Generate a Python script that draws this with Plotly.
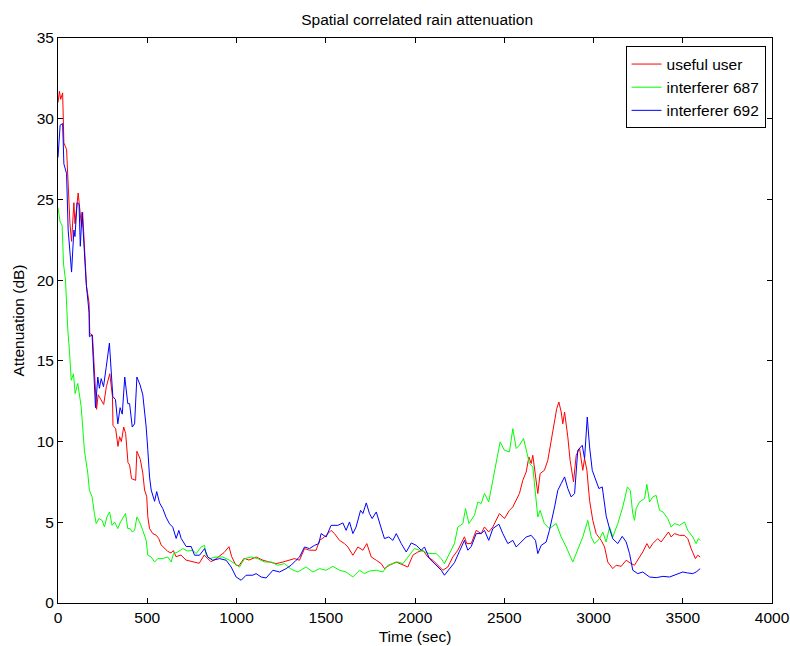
import plotly.graph_objects as go

# ---- data ----
time_user = [0, 8, 15, 26, 33, 48, 67, 76, 89, 95, 113, 132, 138, 160, 174, 178, 193, 216, 225, 243, 256, 271, 290, 305, 308, 323, 336, 345, 355, 368, 379, 392, 401, 412, 435, 442, 461, 475, 485, 497, 503, 513, 531, 550, 564, 578, 596, 614, 633, 646, 661, 689, 717, 754, 791, 819, 837, 856, 875, 903, 930, 958, 973, 996, 1014, 1042, 1070, 1110, 1148, 1185, 1222, 1260, 1297, 1325, 1353, 1381, 1409, 1446, 1465, 1493, 1530, 1549, 1577, 1605, 1624, 1652, 1680, 1708, 1730, 1755, 1783, 1811, 1829, 1857, 1895, 1932, 1960, 1988, 2016, 2044, 2072, 2100, 2128, 2156, 2184, 2212, 2240, 2277, 2290, 2315, 2343, 2371, 2389, 2413, 2436, 2473, 2501, 2529, 2548, 2567, 2585, 2604, 2623, 2638, 2651, 2660, 2675, 2688, 2701, 2725, 2744, 2763, 2782, 2794, 2806, 2819, 2828, 2838, 2856, 2869, 2888, 2903, 2922, 2940, 2950, 2963, 2978, 2996, 3015, 3043, 3062, 3080, 3108, 3127, 3155, 3183, 3211, 3230, 3258, 3276, 3299, 3314, 3332, 3360, 3379, 3398, 3420, 3435, 3454, 3482, 3510, 3528, 3547, 3571, 3584, 3598]
att_user = [31.0, 31.7, 31.2, 31.6, 28.5, 28.1, 23.5, 22.4, 24.8, 23.5, 25.4, 23.3, 24.2, 19.6, 18.6, 16.7, 16.6, 12.0, 12.9, 12.6, 12.3, 13.4, 14.2, 12.8, 11.0, 10.8, 9.7, 10.3, 10.0, 10.9, 10.5, 8.7, 8.55, 7.7, 7.6, 9.4, 8.9, 8.05, 7.0, 6.6, 5.35, 4.6, 4.3, 4.2, 4.0, 3.6, 3.4, 3.2, 3.1, 3.25, 2.87, 2.97, 2.66, 2.56, 2.46, 2.97, 2.77, 2.56, 2.66, 2.91, 3.12, 3.49, 2.87, 2.35, 2.31, 2.77, 2.66, 2.85, 2.65, 2.54, 2.44, 2.54, 2.65, 2.75, 2.65, 3.37, 3.27, 3.27, 3.88, 4.09, 4.5, 4.3, 3.88, 3.68, 3.47, 2.96, 3.47, 3.27, 3.68, 2.85, 2.65, 2.44, 2.13, 2.34, 2.54, 2.34, 2.23, 2.96, 3.16, 3.27, 2.85, 2.65, 2.34, 2.03, 2.23, 2.85, 3.27, 4.1, 3.68, 3.68, 4.5, 4.3, 4.71, 4.4, 4.71, 5.54, 5.23, 5.74, 5.95, 6.36, 6.78, 7.6, 8.12, 9.05, 8.64, 9.15, 7.81, 6.78, 8.02, 8.22, 8.84, 10.08, 11.1, 12.04, 12.45, 11.83, 11.1, 11.83, 10.29, 8.84, 7.5, 9.15, 9.57, 8.22, 8.95, 8.22, 6.36, 5.12, 4.3, 3.88, 3.47, 2.54, 2.13, 2.34, 2.27, 2.65, 2.44, 2.34, 2.85, 3.16, 3.68, 3.37, 3.68, 3.99, 3.78, 4.09, 4.4, 4.09, 4.3, 4.19, 4.19, 3.99, 3.37, 2.75, 2.96, 2.85]

time_687 = [0, 12, 23, 31, 42, 46, 55, 64, 74, 87, 96, 111, 130, 148, 167, 176, 191, 204, 214, 229, 247, 260, 274, 289, 303, 317, 335, 350, 367, 378, 391, 404, 416, 429, 442, 457, 475, 494, 503, 522, 541, 559, 587, 615, 634, 647, 671, 699, 727, 755, 774, 802, 821, 830, 849, 886, 923, 961, 989, 1017, 1045, 1082, 1119, 1157, 1194, 1231, 1269, 1306, 1343, 1390, 1428, 1465, 1502, 1540, 1577, 1614, 1652, 1689, 1717, 1745, 1783, 1820, 1848, 1876, 1904, 1932, 1969, 1997, 2025, 2053, 2081, 2119, 2147, 2165, 2193, 2221, 2240, 2268, 2283, 2302, 2333, 2352, 2371, 2389, 2413, 2436, 2455, 2477, 2501, 2529, 2548, 2567, 2585, 2608, 2626, 2641, 2660, 2675, 2688, 2701, 2725, 2753, 2791, 2819, 2847, 2884, 2912, 2940, 2968, 2987, 3006, 3034, 3052, 3071, 3090, 3108, 3136, 3164, 3190, 3206, 3220, 3230, 3239, 3258, 3286, 3299, 3314, 3332, 3351, 3370, 3389, 3416, 3435, 3454, 3482, 3510, 3528, 3556, 3575, 3588, 3598]
att_687 = [24.5, 23.6, 23.4, 21.0, 20.0, 18.75, 16.9, 15.66, 13.8, 14.2, 12.97, 13.6, 12.14, 9.46, 8.02, 6.98, 6.57, 5.54, 4.92, 5.23, 5.12, 4.71, 5.33, 5.64, 4.81, 5.02, 4.61, 5.02, 5.33, 5.54, 4.61, 4.61, 4.4, 4.5, 5.33, 5.02, 4.5, 3.88, 2.96, 2.85, 2.54, 2.75, 2.75, 2.85, 2.54, 3.06, 3.16, 3.37, 3.22, 3.27, 3.06, 3.47, 3.57, 2.96, 2.75, 2.85, 2.85, 2.65, 2.44, 2.23, 2.75, 2.85, 2.75, 2.54, 2.54, 2.34, 2.44, 2.1, 1.92, 2.23, 1.92, 2.13, 2.03, 2.27, 2.03, 1.92, 1.61, 2.03, 1.82, 1.98, 2.03, 1.92, 2.34, 2.44, 2.54, 2.44, 2.96, 3.37, 3.27, 3.16, 3.06, 3.06, 2.75, 2.44, 3.1, 3.68, 4.7, 4.92, 5.85, 4.92, 5.43, 6.26, 6.16, 6.78, 6.26, 7.6, 8.64, 9.98, 9.46, 9.36, 10.8, 9.57, 9.77, 10.19, 9.36, 8.64, 8.43, 6.98, 5.33, 5.74, 4.92, 4.61, 4.92, 4.09, 3.47, 2.54, 3.27, 4.09, 5.12, 4.09, 3.68, 3.98, 4.4, 3.78, 4.71, 4.09, 4.92, 5.95, 7.19, 6.98, 5.54, 5.12, 5.85, 6.26, 6.47, 7.35, 6.26, 6.57, 6.67, 5.74, 5.64, 5.23, 4.71, 4.92, 4.81, 5.02, 4.5, 4.09, 3.68, 3.99, 3.88]

time_692 = [0, 12, 26, 33, 48, 57, 76, 89, 95, 107, 118, 125, 135, 158, 174, 176, 191, 210, 223, 232, 242, 255, 270, 288, 307, 322, 335, 348, 360, 374, 391, 401, 416, 429, 442, 460, 475, 494, 503, 513, 522, 541, 553, 569, 587, 606, 625, 643, 662, 677, 690, 718, 746, 765, 793, 821, 839, 867, 905, 942, 970, 998, 1026, 1054, 1091, 1110, 1138, 1166, 1204, 1241, 1278, 1306, 1334, 1353, 1381, 1409, 1437, 1461, 1474, 1502, 1530, 1568, 1596, 1614, 1633, 1652, 1670, 1695, 1708, 1727, 1745, 1760, 1783, 1801, 1820, 1829, 1853, 1876, 1895, 1923, 1951, 1979, 2007, 2035, 2053, 2081, 2119, 2147, 2165, 2193, 2221, 2249, 2277, 2296, 2315, 2343, 2371, 2389, 2413, 2436, 2470, 2492, 2520, 2548, 2567, 2595, 2623, 2651, 2675, 2688, 2707, 2735, 2753, 2782, 2800, 2819, 2838, 2856, 2875, 2894, 2912, 2937, 2950, 2965, 2978, 2993, 3011, 3030, 3049, 3056, 3071, 3090, 3108, 3136, 3161, 3183, 3202, 3220, 3248, 3276, 3314, 3351, 3389, 3426, 3463, 3500, 3528, 3556, 3575, 3598]
att_692 = [27.6, 29.6, 29.7, 27.2, 26.6, 23.1, 20.5, 23.1, 22.7, 24.8, 24.7, 22.1, 24.2, 19.8, 18.0, 16.5, 16.6, 12.1, 14.0, 13.3, 13.9, 13.4, 14.6, 16.1, 12.8, 12.6, 11.1, 12.1, 11.7, 14.0, 12.35, 12.35, 10.9, 11.1, 14.0, 13.5, 12.9, 10.9, 9.5, 7.8, 7.0, 6.3, 6.9, 6.2, 5.85, 5.3, 4.9, 4.7, 4.0, 4.5, 4.0, 3.5, 3.5, 2.96, 2.96, 3.37, 2.85, 2.65, 2.75, 2.65, 2.23, 1.61, 1.41, 1.72, 1.72, 1.82, 1.61, 1.55, 2.03, 1.92, 2.13, 2.34, 2.65, 2.85, 3.47, 3.37, 3.57, 3.68, 4.3, 4.09, 4.81, 4.81, 4.96, 4.5, 5.02, 4.3, 4.71, 5.74, 5.54, 6.2, 5.54, 5.23, 5.64, 4.92, 4.3, 3.99, 4.09, 3.88, 4.3, 3.68, 3.16, 3.72, 3.57, 3.27, 3.47, 2.75, 2.34, 2.03, 1.72, 2.08, 2.5, 3.2, 3.88, 3.27, 3.5, 4.3, 4.3, 4.5, 3.88, 4.61, 4.88, 4.3, 3.68, 3.88, 3.47, 3.78, 4.09, 4.19, 3.88, 3.06, 3.57, 3.78, 4.5, 5.95, 6.98, 7.4, 7.81, 7.09, 6.57, 6.78, 9.46, 9.77, 8.95, 11.52, 9.67, 8.22, 7.6, 7.09, 7.19, 6.57, 5.4, 4.6, 3.98, 3.68, 4.13, 3.78, 3.06, 2.03, 1.82, 1.92, 1.61, 1.57, 1.65, 1.61, 1.76, 1.92, 1.86, 1.82, 1.92, 2.13]

series_names = ["useful user", "interferer 687", "interferer 692"]
series_colors = ["#ff0000", "#00ff00", "#0000ff"]
x_ticks = [0, 500, 1000, 1500, 2000, 2500, 3000, 3500, 4000]
y_ticks = [0, 5, 10, 15, 20, 25, 30, 35]

FONT = "Liberation Sans, Arial, sans-serif"
FS = 15.5

fig = go.Figure()
for t, a, name, col in zip([time_user, time_687, time_692],
                           [att_user, att_687, att_692],
                           series_names, series_colors):
    fig.add_trace(go.Scatter(x=t, y=a, mode="lines", name=name,
                             line=dict(color=col, width=1)))

axis_common = dict(showgrid=False, zeroline=False, showline=True,
                   linecolor="black", linewidth=1, mirror="ticks",
                   ticks="inside", ticklen=5, tickcolor="black",
                   automargin=False,
                   tickfont=dict(family=FONT, size=FS, color="black"))

fig.update_layout(
    width=790, height=646,
    margin=dict(l=58, r=18, t=38, b=43),
    paper_bgcolor="white", plot_bgcolor="white",
    font=dict(family=FONT, size=FS, color="black"),
    title=dict(text="Spatial correlated rain attenuation",
               x=0.528, xanchor="center", y=0.969, yanchor="middle",
               font=dict(family=FONT, size=FS, color="black")),
    xaxis=dict(range=[0, 4000], tickvals=x_ticks,
               title=dict(text="Time (sec)", standoff=6,
                          font=dict(family=FONT, size=FS)),
               **axis_common),
    yaxis=dict(range=[0, 35], tickvals=y_ticks,
               title=dict(text="Attenuation (dB)", standoff=8,
                          font=dict(family=FONT, size=FS)),
               **axis_common),
    legend=dict(x=0.991, y=0.985, xanchor="right", yanchor="top",
                bgcolor="white", bordercolor="black", borderwidth=1,
                font=dict(family=FONT, size=FS, color="black"),
                tracegroupgap=0, itemwidth=30),
    showlegend=True,
)

fig.write_html("out.html")
